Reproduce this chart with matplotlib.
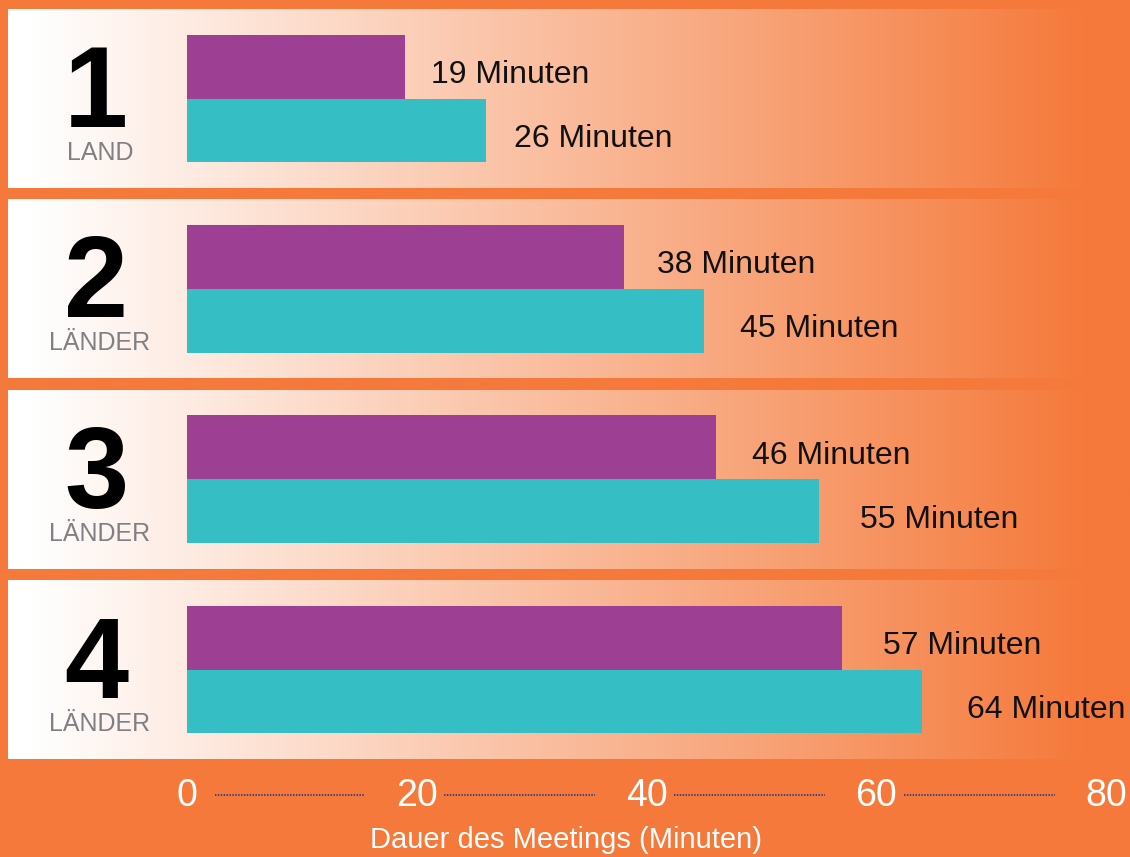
import numpy as np
import matplotlib
matplotlib.use("Agg")
from matplotlib import pyplot as plt
from matplotlib.colors import LinearSegmentedColormap
from matplotlib import transforms

# daten
gruppen = ["1", "2", "3", "4"]
untertitel = ["LAND", "LÄNDER", "LÄNDER", "LÄNDER"]
lila_werte = [19, 38, 46, 57]
tuerkis_werte = [26, 45, 55, 64]
x_ticks = [0, 20, 40, 60, 80]
x_titel = "Dauer des Meetings (Minuten)"

orange = "#F5793A"
lila = "#9D4094"
tuerkis = "#35BEC4"

fig = plt.figure(figsize=(11.3, 8.57), dpi=100)
fig.patch.set_facecolor(orange)
ax = fig.add_axes([0, 0, 1, 1])
ax.set_facecolor(orange)

# 11.49 px pro Minute, 0 liegt bei x=187 px
x_links, x_rechts = -16.27, 82.07
y_oben, y_unten = -0.5175, 3.985

# panels mit verlauf weiss -> orange
verlauf = LinearSegmentedColormap.from_list("verlauf", ["#FFFFFF", orange])
panel_x0 = -15.58
xs = np.linspace(panel_x0, x_rechts, 600)
frac = np.clip((xs - (-13.66)) / (78.6 - (-13.66)), 0, 1)
for i in range(len(gruppen)):
    ax.imshow(frac[np.newaxis, :], cmap=verlauf, vmin=0, vmax=1, aspect="auto",
              interpolation="bilinear",
              extent=(panel_x0, x_rechts, i + 0.47, i - 0.47), zorder=1)

# balken
pos = np.arange(len(gruppen))
h = 0.336
ax.barh(pos - h / 2, lila_werte, height=h, color=lila, zorder=3)
ax.barh(pos + h / 2, tuerkis_werte, height=h, color=tuerkis, zorder=3)

schmal = ["Noto Sans Condensed", "Liberation Sans Narrow", "Liberation Sans"]
for i in range(len(gruppen)):
    ax.text(lila_werte[i] * 1.037 + 1.5, pos[i] - h / 2 + 0.087,
            f"{lila_werte[i]} Minuten", fontsize=23, color="#111111",
            family="Liberation Sans", va="baseline", ha="left", zorder=4)
    ax.text(tuerkis_werte[i] * 1.037 + 1.5, pos[i] + h / 2 + 0.087,
            f"{tuerkis_werte[i]} Minuten", fontsize=23, color="#111111",
            family="Liberation Sans", va="baseline", ha="left", zorder=4)
    # grosse zahl und land/laender
    ax.text(-7.92, pos[i] + 0.15, gruppen[i], fontsize=83, fontweight="bold",
            color="black", family="Liberation Sans", ha="center", va="baseline", zorder=4)
    ax.text(-7.57, pos[i] + 0.323, untertitel[i], fontsize=18, color="#7F8083",
            family=schmal, fontstretch="condensed", ha="center",
            va="baseline", zorder=4)

# gepunktete linien zwischen den tick labels
trans = transforms.blended_transform_factory(ax.transData, ax.transAxes)
for t in x_ticks[:-1]:
    ax.plot([t + 2.4, t + 15.5], [0.0723, 0.0723], transform=trans,
            color="#2E3D80", lw=1.3, ls=(0, (0.8, 0.8)), zorder=2)

ax.set_xlim(x_links, x_rechts)
ax.set_ylim(y_unten, y_oben)
ax.set_xticks(x_ticks)
ax.set_xticklabels([str(t) for t in x_ticks], fontsize=27, color="white",
                   family="Liberation Sans")
plt.setp(ax.get_xticklabels(), va="center")
ax.tick_params(axis="x", length=0, pad=-44)
ax.set_yticks([])
for s in ax.spines.values():
    s.set_visible(False)

ax.set_xlabel(x_titel, fontsize=21, color="white", family="Liberation Sans")
ax.xaxis.set_label_coords(0.501, 0.0198)
ax.xaxis.label.set_va("center")

fig.savefig("out.png", dpi=100, facecolor=orange)
